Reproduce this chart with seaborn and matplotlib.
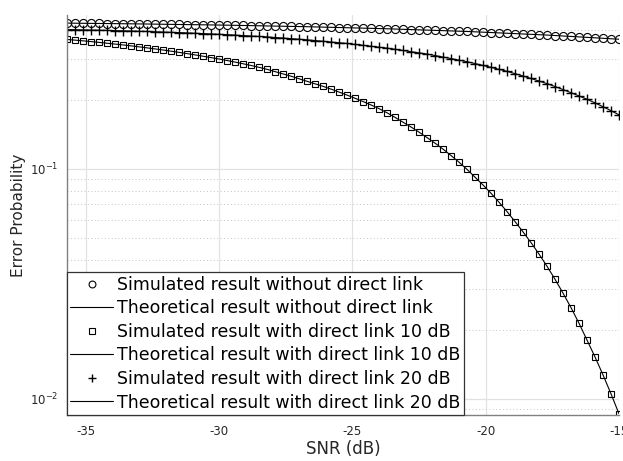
import numpy as np
import pandas as pd
import matplotlib
matplotlib.use("Agg")
import matplotlib.pyplot as plt
import seaborn as sns
from matplotlib.ticker import LogLocator, FixedLocator, NullFormatter, LogFormatterMathtext

# SNR axis (dB), 0.3 dB steps from -35.7 to -15
snr_db = [-35.7, -35.4, -35.1, -34.8, -34.5, -34.2, -33.9, -33.6, -33.3, -33.0,
          -32.7, -32.4, -32.1, -31.8, -31.5, -31.2, -30.9, -30.6, -30.3, -30.0,
          -29.7, -29.4, -29.1, -28.8, -28.5, -28.2, -27.9, -27.6, -27.3, -27.0,
          -26.7, -26.4, -26.1, -25.8, -25.5, -25.2, -24.9, -24.6, -24.3, -24.0,
          -23.7, -23.4, -23.1, -22.8, -22.5, -22.2, -21.9, -21.6, -21.3, -21.0,
          -20.7, -20.4, -20.1, -19.8, -19.5, -19.2, -18.9, -18.6, -18.3, -18.0,
          -17.7, -17.4, -17.1, -16.8, -16.5, -16.2, -15.9, -15.6, -15.3, -15.0]

# Without direct link (circles)
sim_no_direct = [0.4305, 0.4301, 0.4297, 0.4293, 0.4290, 0.4286, 0.4282, 0.4278, 0.4274, 0.4270,
                 0.4266, 0.4261, 0.4256, 0.4251, 0.4246, 0.4241, 0.4237, 0.4232, 0.4227, 0.4222,
                 0.4217, 0.4211, 0.4204, 0.4198, 0.4191, 0.4185, 0.4178, 0.4172, 0.4165, 0.4159,
                 0.4152, 0.4144, 0.4135, 0.4127, 0.4118, 0.4110, 0.4102, 0.4093, 0.4085, 0.4076,
                 0.4068, 0.4057, 0.4046, 0.4035, 0.4024, 0.4014, 0.4003, 0.3992, 0.3981, 0.3970,
                 0.3959, 0.3945, 0.3931, 0.3917, 0.3903, 0.3889, 0.3875, 0.3861, 0.3847, 0.3833,
                 0.3819, 0.3802, 0.3784, 0.3767, 0.3750, 0.3732, 0.3715, 0.3698, 0.3680, 0.3663]

# With direct link 10 dB (squares)
sim_direct_10 = [0.3656, 0.3630, 0.3605, 0.3578, 0.3550, 0.3520, 0.3490, 0.3460, 0.3428, 0.3395,
                 0.3360, 0.3325, 0.3288, 0.3251, 0.3212, 0.3172, 0.3132, 0.3090, 0.3048, 0.3005,
                 0.2960, 0.2914, 0.2866, 0.2817, 0.2765, 0.2710, 0.2649, 0.2588, 0.2530, 0.2466,
                 0.2404, 0.2344, 0.2286, 0.2223, 0.2158, 0.2094, 0.2028, 0.1963, 0.1897, 0.1828,
                 0.1754, 0.1675, 0.1596, 0.1521, 0.1445, 0.1368, 0.1294, 0.1219, 0.1143, 0.1069,
                 0.0995, 0.0920, 0.0851, 0.0783, 0.0716, 0.0652, 0.0590, 0.0532, 0.0478, 0.0426,
                 0.0377, 0.0331, 0.0288, 0.0249, 0.0213, 0.0180, 0.0152, 0.0127, 0.0105, 0.0086]

# With direct link 20 dB (plus)
sim_direct_20 = [0.4036, 0.4029, 0.4022, 0.4016, 0.4009, 0.4002, 0.3993, 0.3984, 0.3976, 0.3967,
                 0.3958, 0.3947, 0.3936, 0.3925, 0.3914, 0.3903, 0.3889, 0.3875, 0.3862, 0.3848,
                 0.3834, 0.3817, 0.3800, 0.3783, 0.3766, 0.3749, 0.3727, 0.3706, 0.3684, 0.3663,
                 0.3641, 0.3615, 0.3589, 0.3562, 0.3536, 0.3510, 0.3478, 0.3446, 0.3414, 0.3382,
                 0.3350, 0.3311, 0.3273, 0.3234, 0.3196, 0.3157, 0.3111, 0.3064, 0.3018, 0.2971,
                 0.2925, 0.2871, 0.2817, 0.2764, 0.2710, 0.2656, 0.2595, 0.2533, 0.2472, 0.2410,
                 0.2349, 0.2281, 0.2213, 0.2144, 0.2076, 0.2008, 0.1936, 0.1863, 0.1791, 0.1718]

# Theoretical curves coincide with the simulated points
theo_no_direct = list(sim_no_direct)
theo_direct_10 = list(sim_direct_10)
theo_direct_20 = list(sim_direct_20)

labels = ["Simulated result without direct link",
          "Theoretical result without direct link",
          "Simulated result with direct link 10 dB",
          "Theoretical result with direct link 10 dB",
          "Simulated result with direct link 20 dB",
          "Theoretical result with direct link 20 dB"]

x_ticks = [-35, -30, -25, -20, -15]

sns.set_theme(style="white")
plt.rcParams["font.family"] = ["DejaVu Sans"]
plt.rcParams["mathtext.fontset"] = "dejavusans"

df = pd.DataFrame({"snr": snr_db,
                   "sim0": sim_no_direct, "th0": theo_no_direct,
                   "sim10": sim_direct_10, "th10": theo_direct_10,
                   "sim20": sim_direct_20, "th20": theo_direct_20})

fig = plt.figure(figsize=(6.23, 4.61), dpi=100)
ax = fig.add_axes([0.1075, 0.0998, 0.8861, 0.8677])

grey_txt = "#262626"
mk = dict(color="black", linestyle="none", markerfacecolor="none",
          markeredgecolor="black", markeredgewidth=0.8)
sns.lineplot(data=df, x="snr", y="sim0", ax=ax, marker="o", markersize=5.8,
             label=labels[0], **mk)
sns.lineplot(data=df, x="snr", y="th0", ax=ax, color="black", linewidth=0.8,
             label=labels[1])
sns.lineplot(data=df, x="snr", y="sim10", ax=ax, marker="s", markersize=4.6,
             label=labels[2], **mk)
sns.lineplot(data=df, x="snr", y="th10", ax=ax, color="black", linewidth=0.8,
             label=labels[3])
mk_plus = dict(mk)
mk_plus["markeredgewidth"] = 1.0
sns.lineplot(data=df, x="snr", y="sim20", ax=ax, marker="+", markersize=6.8,
             label=labels[4], **mk_plus)
sns.lineplot(data=df, x="snr", y="th20", ax=ax, color="black", linewidth=0.8,
             label=labels[5])

ax.set_yscale("log")
ax.set_xlim(-35.7, -15)
ax.set_ylim(0.0085, 0.467)

ax.xaxis.set_major_locator(FixedLocator(x_ticks))
ax.set_xticklabels([str(t) for t in x_ticks])
ax.yaxis.set_major_locator(LogLocator(base=10, numticks=10))
ax.yaxis.set_major_formatter(LogFormatterMathtext())
ax.yaxis.set_minor_locator(LogLocator(base=10, subs=np.arange(2, 10), numticks=20))
ax.yaxis.set_minor_formatter(NullFormatter())

ax.grid(True, which="major", axis="both", color="#e2e2e2", linewidth=0.9, linestyle="-")
ax.yaxis.grid(True, which="minor", color="#c4c4c4", linewidth=0.7, linestyle=(0, (1, 2.5)))
ax.set_axisbelow(True)

for side in ["top", "right"]:
    ax.spines[side].set_visible(False)
for side in ["left", "bottom"]:
    ax.spines[side].set_color("#808080")
    ax.spines[side].set_linewidth(1.0)

ax.tick_params(axis="both", which="major", direction="in", length=4, width=0.8,
               color="#808080", labelsize=8.5, labelcolor=grey_txt, pad=6)
ax.tick_params(axis="y", which="minor", direction="in", length=2.5, width=0.6,
               color="#808080")
ax.tick_params(axis="x", which="major", pad=7)

ax.set_xlabel("SNR (dB)", fontsize=12, color=grey_txt, labelpad=2)
ax.set_ylabel("Error Probability", fontsize=11, color=grey_txt, labelpad=3)

leg = ax.legend(loc="lower left", bbox_to_anchor=(0, 0), borderaxespad=0,
                fontsize=12.5, frameon=True, fancybox=False, framealpha=1,
                edgecolor="#333333", handlelength=2.45, handletextpad=0.25,
                borderpad=0.2, labelspacing=0.32, numpoints=1, markerscale=0.85)
leg.get_frame().set_linewidth(0.9)
for t in leg.get_texts():
    t.set_color("black")

fig.savefig("out.png", dpi=100)
